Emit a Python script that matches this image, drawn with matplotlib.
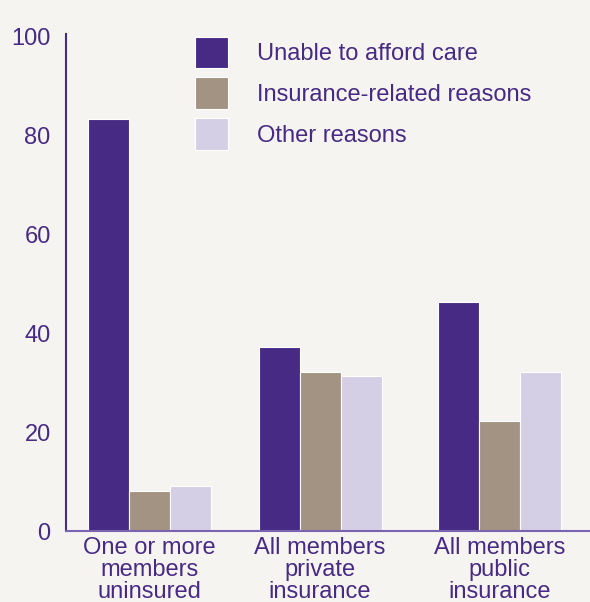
import matplotlib
matplotlib.use("Agg")
import matplotlib.pyplot as plt
import numpy as np

categories = ["One or more\nmembers\nuninsured", "All members\nprivate\ninsurance", "All members\npublic\ninsurance"]
series_names = ["Unable to afford care", "Insurance-related reasons", "Other reasons"]
unable = [83.4, 37.2, 46.3]
insurance = [8.1, 32.2, 22.2]
other = [9.1, 31.3, 32.1]
yticks = [0, 20, 40, 60, 80, 100]

purple = "#472A84"
colors = [purple, "#A39383", "#D5CFE5"]
bg = "#F6F4F1"

plt.rcParams['font.family'] = ['Liberation Sans', 'DejaVu Sans']

fig = plt.figure(figsize=(5.9, 6.02), dpi=100, facecolor=bg)
ax = fig.add_axes([66 / 590, 1 - 531 / 602, 524 / 590, 497 / 602])
ax.set_facecolor(bg)

# group centres are not evenly spaced in the original
x = np.array([0, 0.975, 2.0])
width = 0.234
for i, (vals, name) in enumerate(zip([unable, insurance, other], series_names)):
    ax.bar(x + (i - 1) * width, vals, width, color=colors[i], label=name,
           edgecolor="white", linewidth=0.8, zorder=2)

ax.set_xlim(-0.477, 2.517)
ax.set_ylim(0, 100.6)
ax.set_yticks(yticks)
ax.set_xticks(x)
ax.set_xticklabels(categories, fontsize=17, color=purple, linespacing=1.0)
ax.tick_params(axis="y", length=0, pad=11, labelsize=17, labelcolor=purple)
ax.tick_params(axis="x", length=0, pad=4)

for s in ["top", "right"]:
    ax.spines[s].set_visible(False)
ax.spines["left"].set_color(purple)
ax.spines["left"].set_linewidth(1.5)
ax.spines["bottom"].set_color("#7A63B0")
ax.spines["bottom"].set_linewidth(1.5)

leg = ax.legend(loc="upper left", bbox_to_anchor=(178 / 590, 1 - 20 / 602),
                bbox_transform=fig.transFigure, frameon=False, fontsize=17,
                handlelength=1.4, handleheight=1.7, handletextpad=1.25,
                labelspacing=0.38, borderpad=0.2)
for t in leg.get_texts():
    t.set_color(purple)

plt.savefig("out.png", dpi=100, facecolor=bg)
